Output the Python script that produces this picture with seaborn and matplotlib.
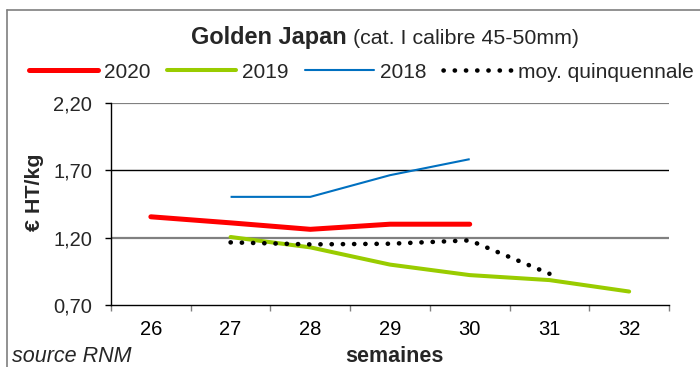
import numpy as np
import pandas as pd
import matplotlib
matplotlib.use("Agg")
import matplotlib.pyplot as plt
from matplotlib.lines import Line2D
import seaborn as sns

# ---- data ----
weeks = [26, 27, 28, 29, 30, 31, 32]
week_labels = ["26", "27", "28", "29", "30", "31", "32"]
y2020 = [1.355, 1.31, 1.262, 1.30, 1.30, np.nan, np.nan]
y2019 = [np.nan, 1.205, 1.128, 1.00, 0.922, 0.885, 0.80]
y2018 = [np.nan, 1.503, 1.503, 1.664, 1.783, np.nan, np.nan]
ymoy = [np.nan, 1.165, 1.15, 1.155, 1.18, 0.932, np.nan]
series_names = ["2020", "2019", "2018", "moy. quinquennale"]
yticks = [0.70, 1.20, 1.70, 2.20]
ytick_labels = ["0,70", "1,20", "1,70", "2,20"]

sns.set_theme(style="white")
plt.rcParams["font.family"] = ["Liberation Sans", "DejaVu Sans"]

W, H = 700, 367
fig = plt.figure(figsize=(W / 100, H / 100), dpi=100)
ax = fig.add_axes([111 / W, 1 - 305 / H, (669 - 111) / W, (305 - 103) / H])

styles = [
    dict(color="#FF0000", lw=3.6, ls="-", solid_capstyle="round"),
    dict(color="#99CC00", lw=2.9, ls="-", solid_capstyle="round"),
    dict(color="#0070C0", lw=1.5, ls="-", solid_capstyle="butt"),
    dict(color="#000000", lw=3.3, ls=(0, (0.05, 2.4)), dash_capstyle="round"),
]
for name, vals, st in zip(series_names, [y2020, y2019, y2018, ymoy], styles):
    df = pd.DataFrame({"x": weeks, "y": vals}).dropna()
    sns.lineplot(data=df, x="x", y="y", ax=ax, color=st["color"], linewidth=st["lw"],
                 linestyle=st["ls"], sort=False, legend=False)
    line = ax.get_lines()[-1]
    if "solid_capstyle" in st:
        line.set_solid_capstyle(st["solid_capstyle"])
    if "dash_capstyle" in st:
        line.set_dash_capstyle(st["dash_capstyle"])

ax.set_xlim(weeks[0] - 0.5, weeks[-1] + 0.5)
ax.set_ylim(yticks[0], yticks[-1])
ax.set_xticks(weeks)
ax.set_xticklabels(week_labels)
ax.set_xticks(np.arange(weeks[0] - 0.5, weeks[-1] + 1.0, 1.0), minor=True)
ax.set_yticks(yticks)
ax.set_yticklabels(ytick_labels)
ax.tick_params(axis="x", which="major", length=0, pad=11, labelsize=14.5, colors="black")
ax.tick_params(axis="x", which="minor", length=4.5, width=1, color="#808080", direction="out", bottom=True)
ax.tick_params(axis="y", which="major", length=4.5, width=1, color="black", direction="out", pad=9, labelsize=14.5, left=True)
ax.set_xlabel("")
ax.set_ylabel("")

for s in ["top", "right"]:
    ax.spines[s].set_visible(False)
for s in ["left", "bottom"]:
    ax.spines[s].set_color("black")
    ax.spines[s].set_linewidth(1.0)

# gridlines
for yv in yticks[1:]:
    if abs(yv - 1.70) < 1e-6:
        ax.axhline(yv, color="black", lw=1.0, zorder=0.5)
    else:
        ax.axhline(yv, color="#808080", lw=1.6, zorder=0.5)

# frame around chart
fig.add_artist(Line2D([7 / W, 7 / W], [0, 1 - 10 / H], transform=fig.transFigure, color="#7f7f7f", lw=1.2))
fig.add_artist(Line2D([7 / W, 1], [1 - 10 / H, 1 - 10 / H], transform=fig.transFigure, color="#7f7f7f", lw=1.2))

# title (bold + normal)
renderer = fig.canvas.get_renderer()
t1 = fig.text(0, 0, "Golden Japan", fontsize=16.9, fontweight="bold")
t2 = fig.text(0, 0, " (cat. I calibre 45-50mm)", fontsize=15.4)
w1 = t1.get_window_extent(renderer).width
w2 = t2.get_window_extent(renderer).width
cx = 385
x0 = cx - (w1 + w2) / 2
ty = 1 - 44 / H
t1.set_position((x0 / W, ty)); t1.set_va("baseline")
t2.set_position(((x0 + w1) / W, ty)); t2.set_va("baseline")

# legend
handles = [Line2D([], [], color=st["color"], lw=st["lw"], ls=st["ls"],
                  solid_capstyle="round", dash_capstyle="round") for st in styles]
fig.legend(handles, series_names, loc="center", bbox_to_anchor=(361.5 / W, 1 - 72 / H),
           ncol=4, frameon=False, fontsize=15, handlelength=3.3, handletextpad=0.3,
           columnspacing=0.8, borderpad=0, borderaxespad=0)

# axis labels and source
fig.text(35 / W, 1 - 192 / H, "€ HT/kg", rotation=90, fontsize=15.4, fontweight="bold",
         ha="center", va="center")
fig.text(394 / W, 1 - 357 / H, "semaines", fontsize=15.5, fontweight="bold", ha="center", va="center")
fig.text(12 / W, 1 - 357 / H, "source RNM", fontsize=15.5, fontstyle="italic", ha="left", va="center")

fig.savefig("out.png", dpi=100)
